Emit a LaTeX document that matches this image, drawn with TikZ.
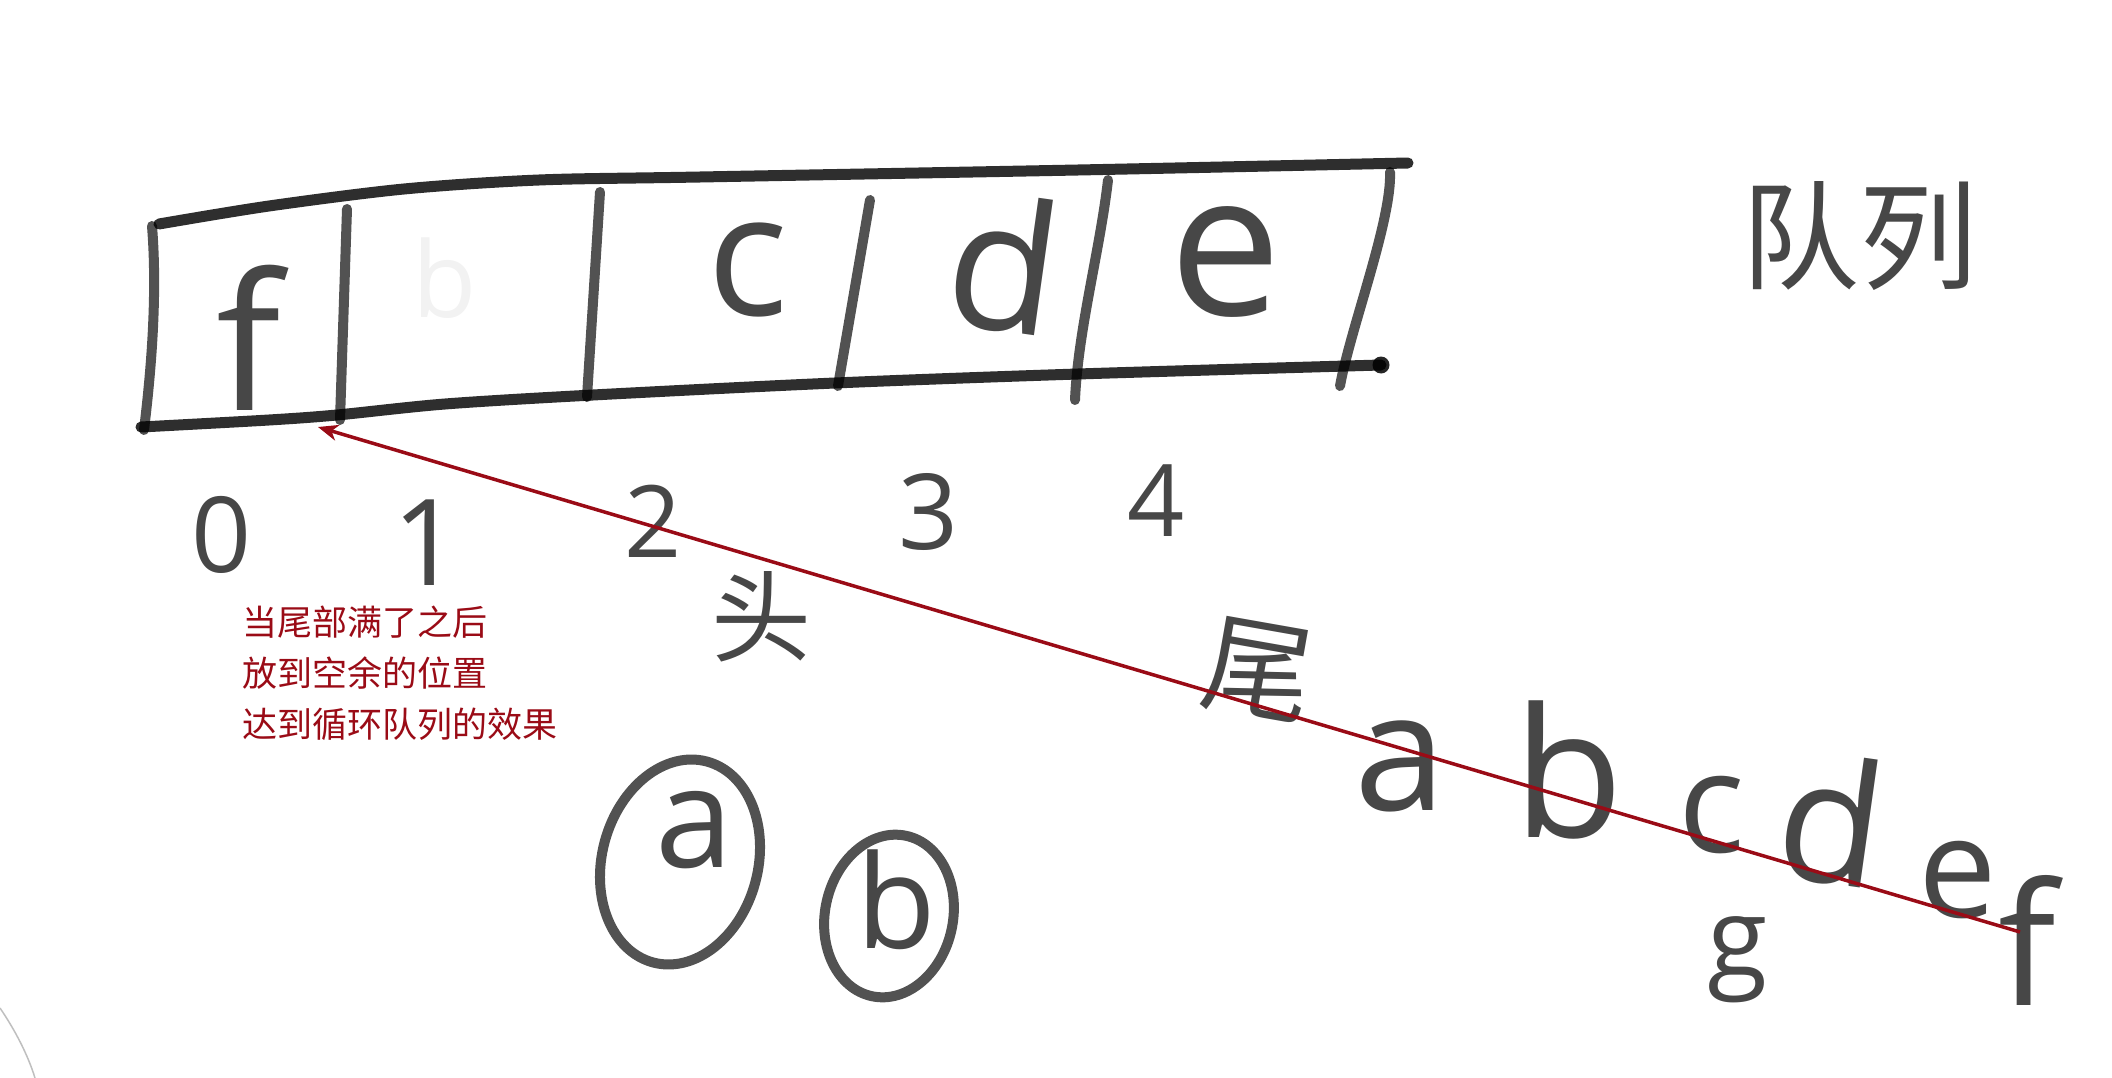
\documentclass[tikz,border=0pt]{standalone}
\usepackage{fontspec}
\usetikzlibrary{arrows.meta}
\newfontfamily\cjk{Noto Sans CJK SC}
\newfontfamily\handfont{Open Sans}
\definecolor{myred}{HTML}{9A0B16}
\tikzset{
  ink/.style={draw=black, draw opacity=0.68, line width=10pt, line cap=round, line join=round},
  edgeline/.style={ink, line width=11pt, draw opacity=0.82},
  hand/.style={text=black, text opacity=0.72, inner sep=0pt, anchor=center},
  redtxt/.style={text=myred, inner sep=0pt, anchor=north west, align=left, font=\cjk\fontsize{35}{51}\selectfont},
  redarrow/.style={draw=myred, line width=3.5pt, -{Stealth[length=20pt,width=16pt,inset=6pt]}},
}
\newcommand{\hs}[1]{\handfont\fontsize{#1}{#1}\selectfont}
\newcommand{\cs}[1]{\cjk\fontsize{#1}{#1}\selectfont}
\begin{document}
\begin{tikzpicture}[x=1pt,y=-1pt]
\useasboundingbox (0,0) rectangle (2112,1078);
\fill[white] (0,0) rectangle (2112,1078);
% box
\draw[edgeline] plot[smooth] coordinates {(159,224) (269,206) (404,189) (539,180) (700,177) (1078,170) (1408,163)};
\draw[edgeline] plot[smooth] coordinates {(141,427) (269,420) (337,415) (445,404) (593,395) (835,383) (1078,374) (1381,365)};
\fill[black,opacity=0.85] (1381,365) circle (8.5);
\draw[ink] (152,226) .. controls (158,300) and (150,380) .. (144,430);
\draw[ink] (347,209) -- (340,420);
\draw[ink] (600,192) -- (587,397);
\draw[ink] (870,200) -- (838,386);
\draw[ink] (1108,180) .. controls (1100,250) and (1078,330) .. (1075,400);
\draw[ink] (1390,172) .. controls (1392,220) and (1350,330) .. (1340,386);
% cell letters
\node[hand] (cf) at (249,338) {\hs{190}f};
\node[hand, text opacity=0.05] (cb) at (445,278) {\hs{105}b};
\node[hand] (cc) at (748,270) {\hs{170}c};
\node[hand, rotate=-8] (cd) at (1004,263) {\hs{180}d};
\node[hand] (ce) at (1226,262) {\hs{200}e};
% indices
\node[hand] (i0) at (222,535) {\hs{105}0};
\node[hand] (i1) at (427,543) {\hs{120}1};
\node[hand] (i2) at (653,521) {\hs{100}2};
\node[hand] (i3) at (929,512) {\hs{105}3};
\node[hand] (i4) at (1156,501) {\hs{100}4};
\node[hand] (tou) at (761,617) {\cs{100}头};
\node[hand, rotate=-10] (wei) at (1258,670) {\cs{110}尾};
\node[hand] (duilie) at (1859,236) {\cs{118}队列};
% diagonal sequence
\node[hand] (sa) at (1400,766) {\hs{165}a};
\node[hand] (sb) at (1569,770) {\hs{180}b};
\node[hand] (sc) at (1712,815) {\hs{140}c};
\node[hand, rotate=-8] (sd) at (1832,820) {\hs{170}d};
\node[hand] (se) at (1958,880) {\hs{140}e};
\node[hand] (sf) at (2027,940) {\hs{170}f};
\node[hand] (sg) at (1738,960) {\hs{110}g};
% circled a and b
\draw[ink, rotate around={-15:(680,862)}] (680,862) ellipse [x radius=78, y radius=104];
\node[hand] (ca) at (694,830) {\hs{140}a};
\draw[ink, rotate around={-12:(889,916)}] (889,916) ellipse [x radius=64, y radius=82];
\node[hand] (cbb) at (896,900) {\hs{130}b};
% note
\node[redtxt] (note) at (242,606) {当尾部满了之后\\放到空余的位置\\达到循环队列的效果};
% arrow
\coordinate (tailend) at (2020,932);
\coordinate (slot) at (318,427);
\draw[redarrow] (tailend) -- (slot);
% corner arc
\draw[black!25, line width=1.5pt] (0,1008) .. controls (15,1030) and (28,1055) .. (35,1078);
\end{tikzpicture}
\end{document}
